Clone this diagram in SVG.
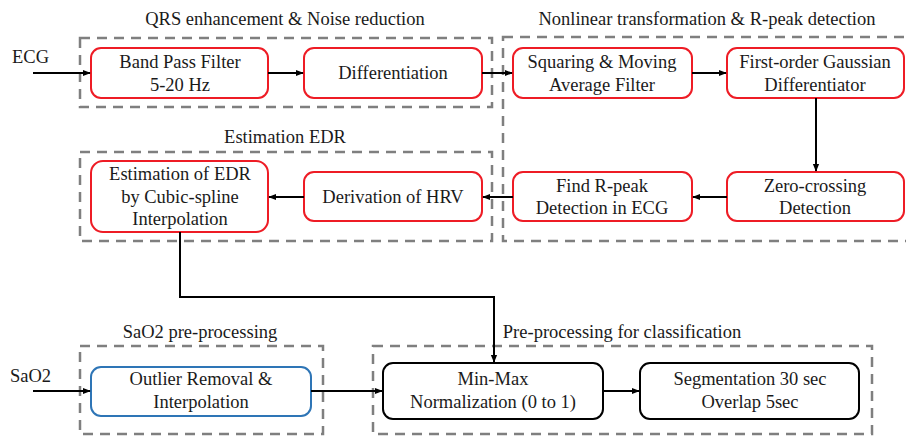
<svg xmlns="http://www.w3.org/2000/svg" width="906" height="436" viewBox="0 0 906 436" font-family="Times New Roman, Liberation Serif, Tinos, Noto Serif, serif">
  <defs>
    <marker id="arrow" viewBox="0 0 10 10" refX="9" refY="5" markerWidth="4" markerHeight="4" orient="auto" markerUnits="strokeWidth">
      <path d="M0,1 L10,5 L0,9 z" fill="#000"/>
    </marker>
    <style>
      text { font-size: 18.5px; fill: #1a1a1a; text-anchor: middle; }
      .group-frame { fill: none; stroke: #7f7f7f; stroke-width: 2.5; stroke-dasharray: 10 7; }
      .red { fill: #fff; stroke: #ee1c25; stroke-width: 2; }
      .blue { fill: #fff; stroke: #2e75b6; stroke-width: 2; }
      .black { fill: #fff; stroke: #000; stroke-width: 2; }
      .link { fill: none; stroke: #000; stroke-width: 2; marker-end: url(#arrow); }
      .start { text-anchor: start; }
    </style>
  </defs>

  <rect width="906" height="436" fill="#fff"/>

  <!-- stage frames -->
  <g id="frames">
    <rect class="group-frame" x="80" y="38" width="412" height="69"/>
    <text x="285" y="25">QRS enhancement &amp; Noise reduction</text>
    <rect class="group-frame" x="503" y="37" width="410" height="204"/>
    <text x="707" y="25">Nonlinear transformation &amp; R-peak detection</text>
    <rect class="group-frame" x="80" y="152" width="412" height="89"/>
    <text x="285" y="143">Estimation EDR</text>
    <rect class="group-frame" x="80" y="346" width="243" height="88"/>
    <text x="200" y="338">SaO2 pre-processing</text>
    <rect class="group-frame" x="373" y="346" width="499" height="88"/>
    <text x="622" y="338">Pre-processing for classification</text>
  </g>

  <!-- signal inputs -->
  <g id="inputs">
    <text class="start" x="12" y="63">ECG</text>
    <text class="start" x="10" y="382">SaO2</text>
  </g>

  <g id="bandpass">
    <rect class="red" x="91" y="48" width="177" height="50" rx="10"/>
    <text x="180" y="68">Band Pass Filter</text>
    <text x="180" y="91">5-20 Hz</text>
  </g>
  <g id="differentiation">
    <rect class="red" x="304" y="48" width="178" height="50" rx="10"/>
    <text x="393" y="79">Differentiation</text>
  </g>
  <g id="squaring">
    <rect class="red" x="513" y="48" width="179" height="50" rx="10"/>
    <text x="602" y="68">Squaring &amp; Moving</text>
    <text x="602" y="91">Average Filter</text>
  </g>
  <g id="gaussian">
    <rect class="red" x="727" y="48" width="177" height="50" rx="10"/>
    <text x="815" y="68">First-order Gaussian</text>
    <text x="815" y="91">Differentiator</text>
  </g>
  <g id="zerocrossing">
    <rect class="red" x="727" y="172" width="177" height="49" rx="10"/>
    <text x="815" y="192">Zero-crossing</text>
    <text x="815" y="214">Detection</text>
  </g>
  <g id="rpeak">
    <rect class="red" x="513" y="172" width="179" height="49" rx="10"/>
    <text x="602" y="192">Find R-peak</text>
    <text x="602" y="214">Detection in ECG</text>
  </g>
  <g id="hrv">
    <rect class="red" x="304" y="172" width="178" height="49" rx="10"/>
    <text x="393" y="203">Derivation of HRV</text>
  </g>
  <g id="edr">
    <rect class="red" x="91" y="161" width="177" height="71" rx="12"/>
    <text x="180" y="180">Estimation of EDR</text>
    <text x="180" y="203">by Cubic-spline</text>
    <text x="180" y="225">Interpolation</text>
  </g>
  <g id="outlier">
    <rect class="blue" x="91" y="367" width="220" height="49" rx="10"/>
    <text x="201" y="385">Outlier Removal &amp;</text>
    <text x="201" y="408">Interpolation</text>
  </g>
  <g id="minmax">
    <rect class="black" x="383" y="363" width="220" height="56" rx="10"/>
    <text x="493" y="385">Min-Max</text>
    <text x="493" y="408">Normalization (0 to 1)</text>
  </g>
  <g id="segmentation">
    <rect class="black" x="640" y="363" width="219" height="56" rx="10"/>
    <text x="750" y="385">Segmentation 30 sec</text>
    <text x="750" y="408">Overlap 5sec</text>
  </g>

  <!-- connectors -->
  <g id="connectors">
    <path class="link" d="M33,73 H90"/>
    <path class="link" d="M268,73 H303"/>
    <path class="link" d="M482,73 H512"/>
    <path class="link" d="M692,73 H726"/>
    <path class="link" d="M816,98 V171"/>
    <path class="link" d="M727,197 H693"/>
    <path class="link" d="M513,197 H483"/>
    <path class="link" d="M304,197 H269"/>
    <path class="link" d="M180,232 V297 H494 V362"/>
    <path class="link" d="M33,391 H90"/>
    <path class="link" d="M311,391 H382"/>
    <path class="link" d="M603,391 H639"/>
  </g>
</svg>
